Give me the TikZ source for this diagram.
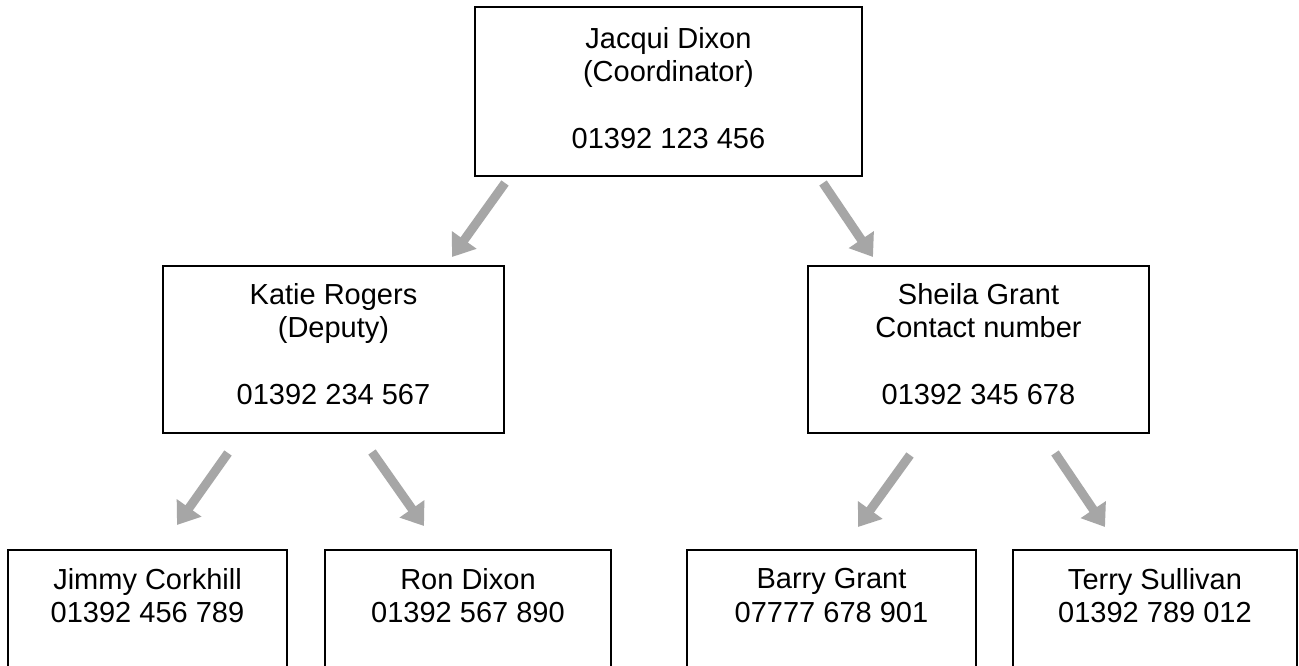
\documentclass[tikz,border=0pt]{standalone}
\usepackage{fontspec}
\setmainfont{Liberation Sans}
\usetikzlibrary{arrows.meta}
\definecolor{arrowgray}{RGB}{166,166,166}
\tikzset{
  orgbox/.style={draw=black, line width=1.5pt, fill=white, inner sep=0pt},
  orgtext/.style={align=center, inner sep=0pt, anchor=north, font=\fontsize{29}{33.5}\selectfont},
  grayarrow/.style={draw=arrowgray, line width=9pt, -{Triangle[length=21pt,width=29pt]}}
}
\begin{document}
\begin{tikzpicture}[x=1pt,y=1pt]
\clip (0,0) rectangle (1299,-666);
\fill[white] (0,0) rectangle (1299,-666);
% boxes
\node[orgbox, minimum width=387pt, minimum height=169pt] (top) at (668.5,-91.5) {};
\node[orgbox, minimum width=341pt, minimum height=167pt] (katie) at (333.5,-349.5) {};
\node[orgbox, minimum width=341pt, minimum height=167pt] (sheila) at (978.5,-349.5) {};
\node[orgbox, minimum width=279pt, minimum height=170pt] (jimmy) at (147.5,-635) {};
\node[orgbox, minimum width=286pt, minimum height=170pt] (ron) at (468,-635) {};
\node[orgbox, minimum width=289pt, minimum height=170pt] (barry) at (831.5,-635) {};
\node[orgbox, minimum width=284pt, minimum height=170pt] (terry) at (1155,-635) {};
% texts
\node[orgtext] (topt) at ([yshift=-21pt]top.north) {Jacqui Dixon\\(Coordinator)\\[33.5pt]01392 123 456};
\node[orgtext] (katiet) at ([yshift=-18pt]katie.north) {Katie Rogers\\(Deputy)\\[33pt]01392 234 567};
\node[orgtext] (sheilat) at ([yshift=-18pt]sheila.north) {Sheila Grant\\Contact number\\[33pt]01392 345 678};
\node[orgtext] (jimmyt) at ([yshift=-19pt]jimmy.north) {Jimmy Corkhill\\01392 456 789};
\node[orgtext] (ront) at ([yshift=-19pt]ron.north) {Ron Dixon\\01392 567 890};
\node[orgtext] (barryt) at ([yshift=-19pt]barry.north) {Barry Grant\\07777 678 901};
\node[orgtext] (terryt) at ([yshift=-19pt]terry.north) {Terry Sullivan\\01392 789 012};
% arrow end points
\coordinate (a1s) at (505,-183); \coordinate (a1e) at (452,-257);
\coordinate (a2s) at (823,-183); \coordinate (a2e) at (873,-257);
\coordinate (a3s) at (228,-453); \coordinate (a3e) at (177,-525);
\coordinate (a4s) at (372,-452); \coordinate (a4e) at (424,-526);
\coordinate (a5s) at (910,-455); \coordinate (a5e) at (858,-527);
\coordinate (a6s) at (1055,-453); \coordinate (a6e) at (1105,-527);
\draw[grayarrow] (a1s) -- (a1e);
\draw[grayarrow] (a2s) -- (a2e);
\draw[grayarrow] (a3s) -- (a3e);
\draw[grayarrow] (a4s) -- (a4e);
\draw[grayarrow] (a5s) -- (a5e);
\draw[grayarrow] (a6s) -- (a6e);
\end{tikzpicture}
\end{document}
